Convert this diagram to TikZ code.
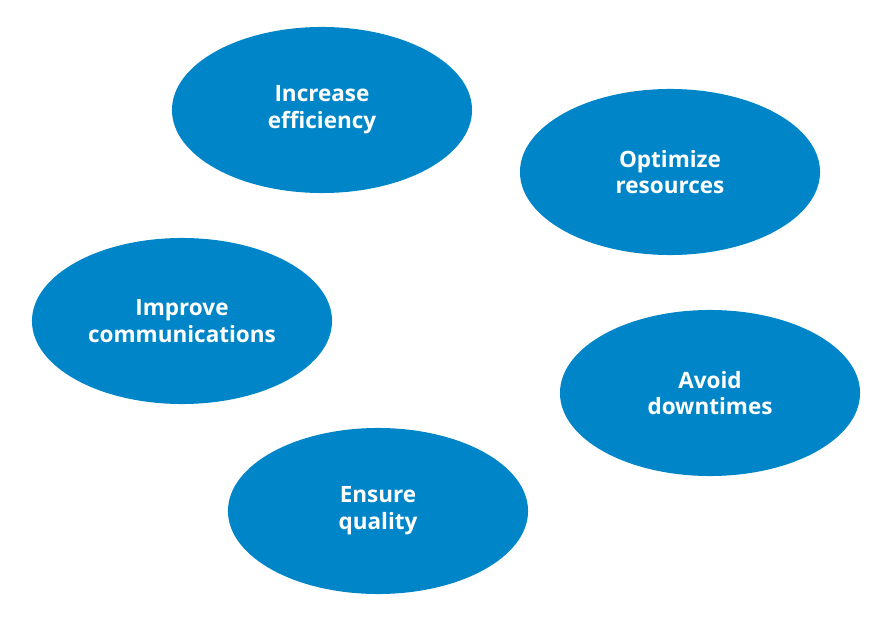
\documentclass[tikz,border=0pt]{standalone}
\usepackage{fontspec}
\setmainfont{Open Sans}
\usetikzlibrary{shapes.geometric}
\definecolor{goalBlue}{RGB}{0, 134, 200}

\begin{document}
\begin{tikzpicture}[
    x=0.025cm, y=-0.025cm,
    % goal ellipse style
    goal/.style={ellipse, fill=goalBlue, minimum width=7.5cm, minimum height=4.15cm,
        inner sep=0pt, text=white, align=center,
        font=\fontsize{16}{19}\selectfont\bfseries}
]
\useasboundingbox (0,0) rectangle (894,622);

% === goals ===
\node[goal] (efficiency) at (322,110) {Increase\\efficiency};
\node[goal] (resources) at (670,172) {Optimize\\resources};
\node[goal] (communications) at (182,321) {Improve\\communications};
\node[goal] (downtimes) at (710,393) {Avoid\\downtimes};
\node[goal] (quality) at (378,511) {Ensure\\quality};

\end{tikzpicture}
\end{document}
